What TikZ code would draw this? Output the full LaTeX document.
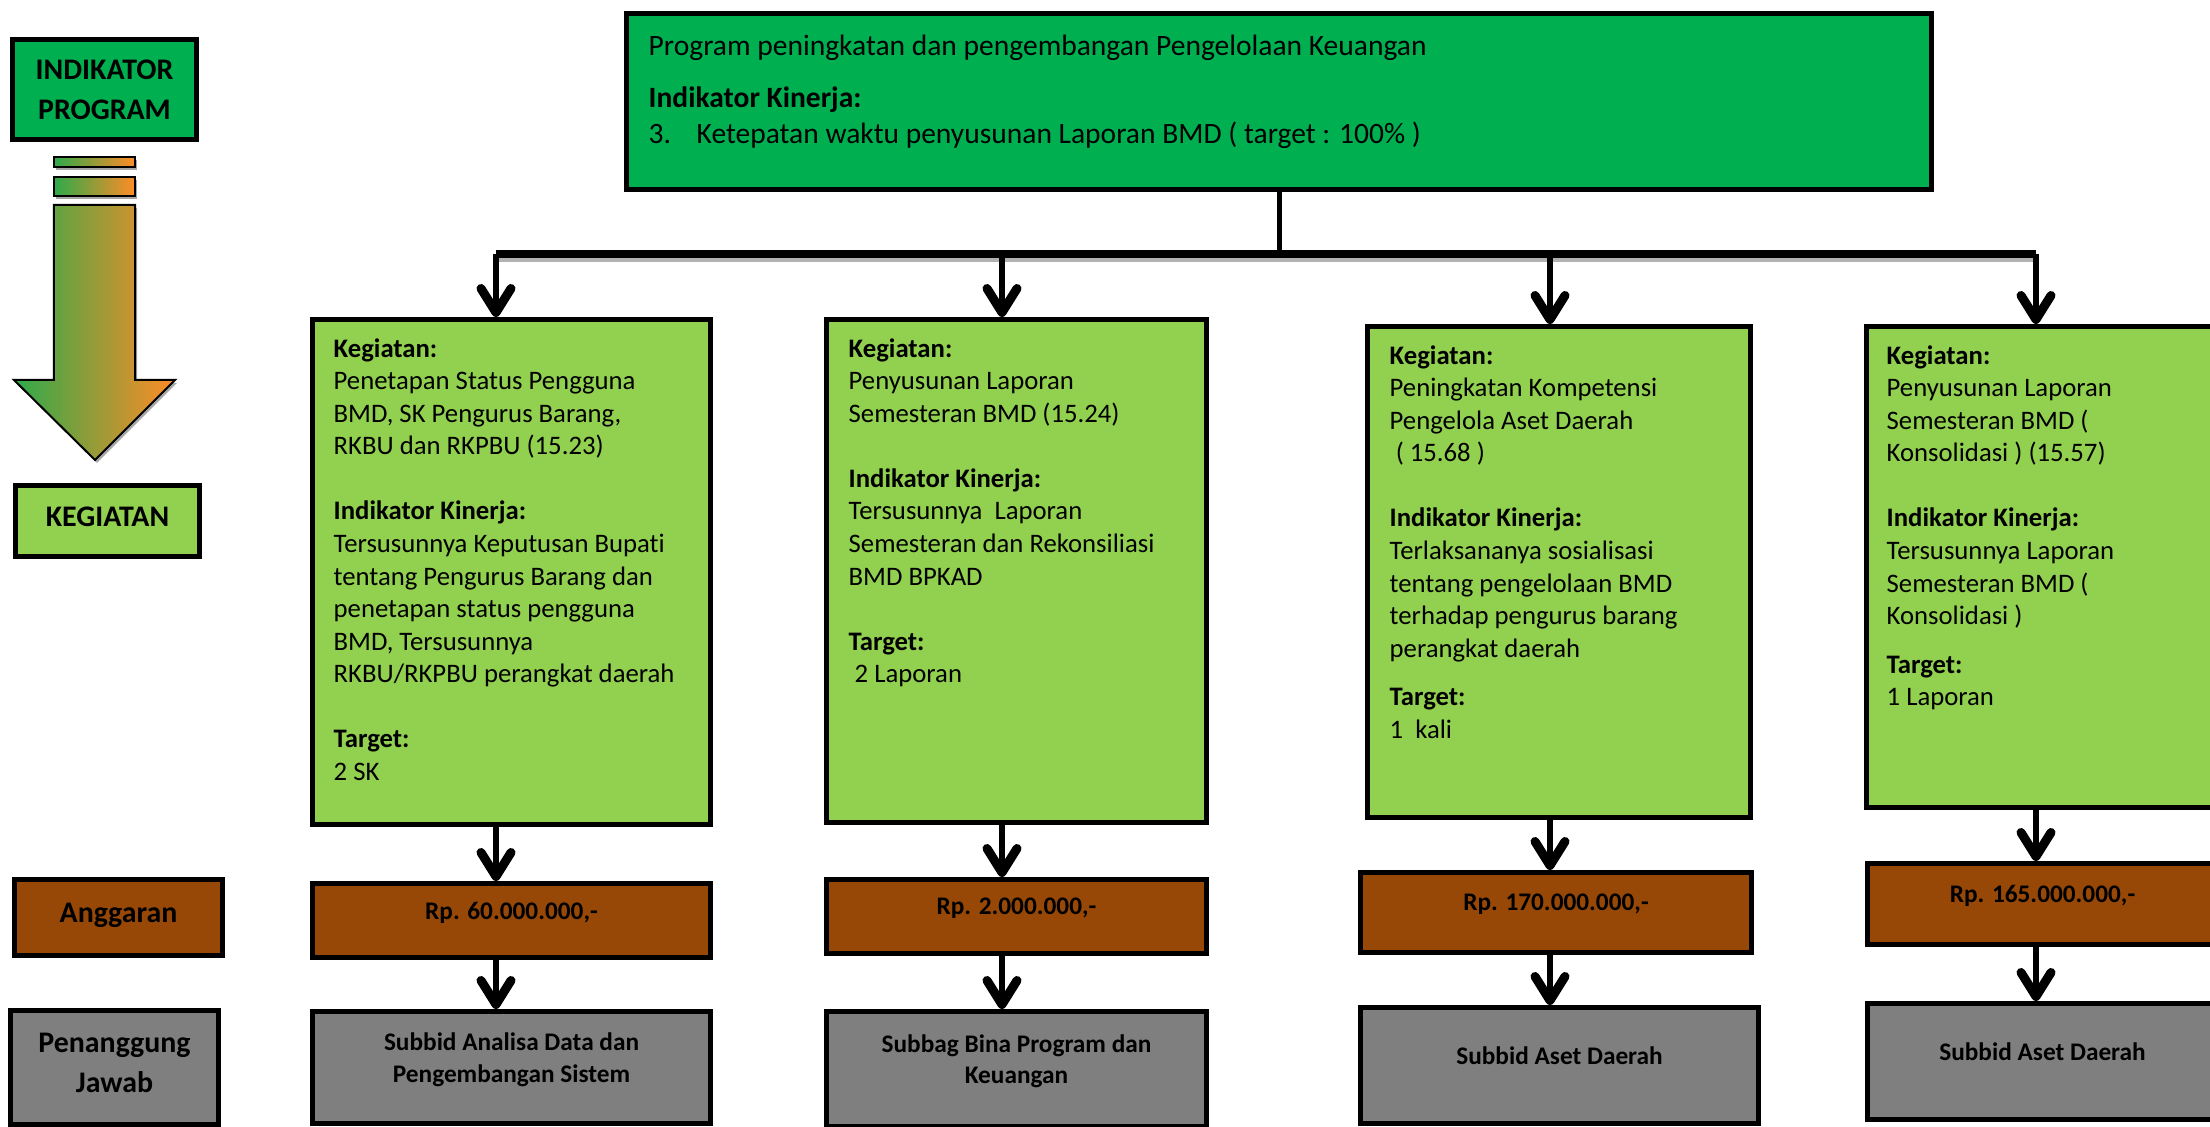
\documentclass[tikz,border=0pt]{standalone}
\usepackage{fontspec}
\setmainfont{Carlito}[Ligatures={NoCommon}]
\usepackage{tikz}
\usetikzlibrary{arrows.meta}
\definecolor{progGreen}{HTML}{00B050}
\definecolor{kegGreen}{HTML}{92D050}
\definecolor{budgetBrown}{HTML}{974806}
\definecolor{staffGray}{HTML}{7F7F7F}
\definecolor{flowGreen}{HTML}{2EAA4A}
\definecolor{flowOrange}{HTML}{FF8C26}

\begin{document}
\begin{tikzpicture}[x=1cm,y=-1cm,
    box/.style={draw,line width=0.05cm,inner sep=0pt,anchor=north west},
    progbox/.style={box,fill=progGreen},
    kegbox/.style={box,fill=kegGreen},
    budgetbox/.style={box,fill=budgetBrown,text depth=0.2cm,font=\fontsize{7.2}{8.9}\selectfont\bfseries},
    staffbox/.style={box,fill=staffGray,align=center,text depth=0.2cm,font=\fontsize{7.2}{8.9}\selectfont\bfseries},
    sidelabel/.style={align=center,text depth=0.09cm,font=\fontsize{8.5}{11.5}\selectfont\bfseries},
    body/.style={anchor=north west,inner sep=0pt,align=left,font=\fontsize{7.6}{9.25}\selectfont},
    arr/.style={line width=0.06cm,-{Straight Barb[length=0.24cm,width=0.30cm,line width=0.09cm,round]}}]
    \useasboundingbox (0,0) rectangle (22.10,11.27);
    \clip (0,0) rectangle (22.10,11.27);

    \node[progbox,sidelabel,text depth=0pt,minimum width=1.84cm,minimum height=1.00cm] (lblprog) at (0.10,0.37) {INDIKATOR\\PROGRAM};
    \node[kegbox,sidelabel,minimum width=1.84cm,minimum height=0.71cm] (lblkeg) at (0.13,4.83) {KEGIATAN};
    \node[budgetbox,sidelabel,minimum width=2.08cm,minimum height=0.76cm] (lblbudget) at (0.12,8.77) {Anggaran};
    \node[staffbox,sidelabel,minimum width=2.08cm,minimum height=1.14cm] (lblstaff) at (0.08,10.08) {Penanggung\\Jawab};

    \fill[black!35] (0.56,1.60) rectangle (1.37,1.70);
    \fill[black!35] (0.56,1.80) rectangle (1.37,1.99);
    \fill[black!35] (0.56,2.08) -- (1.37,2.08) -- (1.37,3.83) -- (1.77,3.83) -- (0.97,4.63) -- (0.16,3.83) -- (0.56,3.83) -- cycle;
    \shade[draw,line width=0.02cm,left color=flowGreen,right color=flowOrange] (0.54,1.57) rectangle (1.35,1.67);
    \shade[draw,line width=0.02cm,left color=flowGreen,right color=flowOrange] (0.54,1.77) rectangle (1.35,1.96);
    \shade[draw,line width=0.02cm,left color=flowGreen,right color=flowOrange] (0.54,2.05) -- (1.35,2.05) -- (1.35,3.80) -- (1.75,3.80) -- (0.95,4.60) -- (0.14,3.80) -- (0.54,3.80) -- cycle;

    \node[progbox,minimum width=13.05cm,minimum height=1.76cm] (prog) at (6.24,0.11) {};
    \node[body,font=\fontsize{8.4}{10.2}\selectfont] (progtext) at (6.48,0.34) {Program peningkatan dan pengembangan Pengelolaan Keuangan\\[4.6pt]
        \textbf{Indikator Kinerja:}\\
        \makebox[0.48cm][l]{3.}Ketepatan waktu penyusunan Laporan BMD ( target : 100\% )};

    \node[kegbox,minimum width=3.98cm,minimum height=5.05cm] (kg1) at (3.10,3.17) {};
    \node[kegbox,minimum width=3.80cm,minimum height=5.03cm] (kg2) at (8.24,3.17) {};
    \node[kegbox,minimum width=3.83cm,minimum height=4.91cm] (kg3) at (13.65,3.24) {};
    \node[kegbox,minimum width=3.51cm,minimum height=4.81cm] (kg4) at (18.64,3.24) {};

    \node[body] (t1) at (3.33,3.38) {\textbf{Kegiatan:}\\ Penetapan Status Pengguna\\ BMD, SK Pengurus Barang,\\ RKBU dan RKPBU (15.23)\\[9.25pt]
        \textbf{Indikator Kinerja:}\\ Tersusunnya Keputusan Bupati\\ tentang Pengurus Barang dan\\ penetapan status pengguna\\ BMD, Tersusunnya\\ RKBU/RKPBU perangkat daerah\\[9.25pt]
        \textbf{Target:}\\ 2 SK};
    \node[body] (t2) at (8.48,3.38) {\textbf{Kegiatan:}\\ Penyusunan Laporan\\ Semesteran BMD (15.24)\\[9.25pt]
        \textbf{Indikator Kinerja:}\\ Tersusunnya\ \ Laporan\\ Semesteran dan Rekonsiliasi\\ BMD BPKAD\\[9.25pt]
        \textbf{Target:}\\ \ 2 Laporan};
    \node[body] (t3) at (13.89,3.45) {\textbf{Kegiatan:}\\ Peningkatan Kompetensi\\ Pengelola Aset Daerah\\ \ ( 15.68 )\\[9.25pt]
        \textbf{Indikator Kinerja:}\\ Terlaksananya sosialisasi\\ tentang pengelolaan BMD\\ terhadap pengurus barang\\ perangkat daerah\\[4.65pt]
        \textbf{Target:}\\ 1\ \ kali};
    \node[body] (t4) at (18.86,3.45) {\textbf{Kegiatan:}\\ Penyusunan Laporan\\ Semesteran BMD (\\ Konsolidasi ) (15.57)\\[9.25pt]
        \textbf{Indikator Kinerja:}\\ Tersusunnya Laporan\\ Semesteran BMD (\\ Konsolidasi )\\[4.65pt]
        \textbf{Target:}\\ 1 Laporan};

    \node[budgetbox,minimum width=3.98cm,minimum height=0.74cm] (ag1) at (3.10,8.81) {Rp. 60.000.000,-};
    \node[budgetbox,minimum width=3.80cm,minimum height=0.74cm] (ag2) at (8.24,8.77) {Rp. 2.000.000,-};
    \node[budgetbox,minimum width=3.91cm,minimum height=0.80cm] (ag3) at (13.58,8.70) {Rp. 170.000.000,-};
    \node[budgetbox,minimum width=3.50cm,minimum height=0.81cm] (ag4) at (18.65,8.61) {Rp. 165.000.000,-};

    \node[staffbox,minimum width=3.98cm,minimum height=1.12cm] (sb1) at (3.10,10.09) {Subbid Analisa Data dan\\Pengembangan Sistem};
    \node[staffbox,minimum width=3.80cm,minimum height=1.15cm] (sb2) at (8.24,10.09) {Subbag Bina Program dan\\Keuangan};
    \node[staffbox,minimum width=3.98cm,minimum height=1.16cm] (sb3) at (13.58,10.05) {Subbid Aset Daerah};
    \node[staffbox,minimum width=3.50cm,minimum height=1.16cm] (sb4) at (18.65,10.01) {Subbid Aset Daerah};

    \coordinate (j1) at (4.96,2.54);
    \coordinate (j2) at (10.02,2.54);
    \coordinate (j3) at (15.50,2.54);
    \coordinate (j4) at (20.36,2.54);

    \draw[line width=0.05cm,black!30] ([yshift=-0.06cm]j1) -- ([yshift=-0.06cm]j4);
    \draw[line width=0.05cm] (prog.south) -- (prog.south |- j1);
    \draw[line width=0.08cm] (j1) -- (j4);

    \foreach \i in {1,2,3,4} {
        \draw[arr] (j\i) -- (kg\i.north -| j\i);
        \draw[arr] (kg\i.south -| j\i) -- (ag\i.north -| j\i);
        \draw[arr] (ag\i.south -| j\i) -- (sb\i.north -| j\i);
    }
\end{tikzpicture}
\end{document}
